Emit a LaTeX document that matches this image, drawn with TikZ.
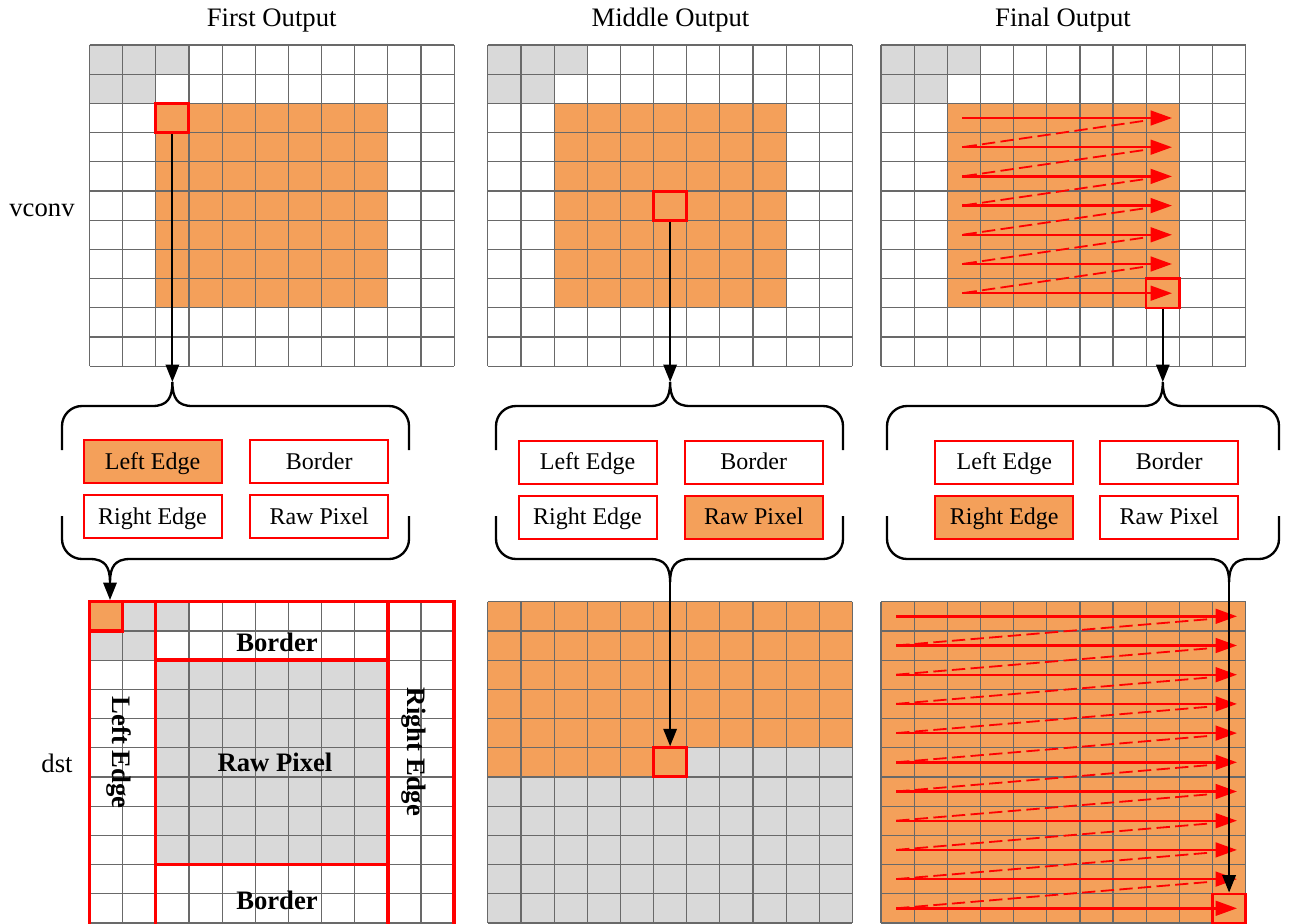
\documentclass[tikz,border=0pt]{standalone}
\usepackage{fontspec}
\setmainfont{Liberation Serif}
\usetikzlibrary{arrows.meta}
\definecolor{org}{RGB}{244,160,90}
\definecolor{lgray}{RGB}{217,217,217}
\definecolor{gline}{RGB}{105,105,105}
\def\cellW{33.15}
\def\cellH{29.2}
\newcommand{\GridLines}[2]{%
  \foreach \i in {0,...,11}{
    \draw[gridline] ({#1+\i*\cellW},#2) -- ({#1+\i*\cellW},{#2+11*\cellH});
    \draw[gridline] (#1,{#2+\i*\cellH}) -- ({#1+11*\cellW},{#2+\i*\cellH});
  }}
\newcommand{\Cells}[7]{\fill[#7] ({#1+#3*\cellW},{#2+#4*\cellH}) rectangle ({#1+(#5+1)*\cellW},{#2+(#6+1)*\cellH});}
\newcommand{\BraceTop}[3]{%
  \draw[brace] (#1,450) -- (#1,426) .. controls (#1,415) and ({#1+9},406) .. ({#1+20},406) -- ({#3-20},406) .. controls ({#3-5},406) and (#3,398) .. (#3,382) .. controls (#3,398) and ({#3+5},406) .. ({#3+20},406) -- ({#2-20},406) .. controls ({#2-9},406) and (#2,415) .. (#2,426) -- (#2,450);}
\newcommand{\BraceBot}[3]{%
  \draw[brace] (#1,516) -- (#1,539) .. controls (#1,550) and ({#1+9},559) .. ({#1+20},559) -- ({#3-20},559) .. controls ({#3-5},559) and (#3,567) .. (#3,582) .. controls (#3,567) and ({#3+5},559) .. ({#3+20},559) -- ({#2-20},559) .. controls ({#2-9},559) and (#2,550) .. (#2,539) -- (#2,516);}
\begin{document}
\begin{tikzpicture}[x=0.75pt,y=-0.75pt,
  gridline/.style={draw=gline,line width=0.9pt},
  redsq/.style={draw=red,line width=2.25pt,inner sep=0pt,minimum width=24.86pt,minimum height=21.9pt},
  optbox/.style={draw=red,line width=1.5pt,inner sep=0pt,minimum width=103.5pt,minimum height=32.25pt,text depth=1pt,font=\fontsize{18}{20}\selectfont},
  sel/.style={fill=org},
  brace/.style={line width=1.75pt},
  blk/.style={line width=1.5pt,-{Triangle[length=13pt,width=10pt]}},
  rarrow/.style={draw=red,line width=1.8pt,-{Triangle[length=16pt,width=11pt]}},
  rdash/.style={draw=red,line width=1.35pt,dash pattern=on 10pt off 4pt},
  lbl/.style={font=\fontsize{20}{24}\selectfont},
  blbl/.style={font=\fontsize{20}{24}\selectfont\bfseries},
]
\useasboundingbox (0,0) rectangle (1292,924);
\fill[white] (0,0) rectangle (1292,924);

% titles
\node[lbl,anchor=base] (h1) at (271.7,27) {First Output};
\node[lbl,anchor=base] (h2) at (670.5,27) {Middle Output};
\node[lbl,anchor=base] (h3) at (1063,27) {Final Output};
\node[lbl,anchor=base] (lv) at (42,216) {vconv};
\node[lbl,anchor=base] (ld) at (57,772) {dst};

% ---------- top grids ----------
% first
\Cells{89.5}{45}{0}{0}{2}{0}{lgray}
\Cells{89.5}{45}{0}{1}{1}{1}{lgray}
\Cells{89.5}{45}{2}{2}{8}{8}{org}
\GridLines{89.5}{45}
\node[redsq] (s1) at ({89.5+2.5*\cellW},{45+2.5*\cellH}) {};
% middle
\Cells{487.8}{45}{0}{0}{2}{0}{lgray}
\Cells{487.8}{45}{0}{1}{1}{1}{lgray}
\Cells{487.8}{45}{2}{2}{8}{8}{org}
\GridLines{487.8}{45}
\node[redsq] (s2) at ({487.8+5.5*\cellW},{45+5.5*\cellH}) {};
% final
\Cells{881}{45}{0}{0}{2}{0}{lgray}
\Cells{881}{45}{0}{1}{1}{1}{lgray}
\Cells{881}{45}{2}{2}{8}{8}{org}
\GridLines{881}{45}
\foreach \r in {2,...,8}{
  \draw[rarrow] (962,{45+(\r+0.5)*\cellH}) -- (1172,{45+(\r+0.5)*\cellH});
}
\foreach \r in {2,...,7}{
  \draw[rdash] (1143,{45+(\r+0.5)*\cellH+3}) -- (962,{45+(\r+1.5)*\cellH});
}
\node[redsq,line width=1.8pt] (s3) at ({881+8.5*\cellW},{45+8.5*\cellH}) {};

% ---------- braces and option boxes ----------
\coordinate (t1) at ({89.5+2.5*\cellW},382);
\coordinate (t2) at ({487.8+5.5*\cellW},382);
\coordinate (t3) at ({881+8.5*\cellW},382);
\coordinate (b1) at (110,582);
\coordinate (b2) at ({487.8+5.5*\cellW},582);
\coordinate (b3) at ({881+10.5*\cellW},582);

\BraceTop{62}{409}{172.4}
\BraceBot{62}{409}{110}
\BraceTop{496}{843}{670.1}
\BraceBot{496}{843}{670.1}
\BraceTop{887}{1279}{1162.8}
\BraceBot{887}{1279}{1229.1}

\node[optbox,sel] (a1) at (152.5,461.7) {Left Edge};
\node[optbox] (a2) at (319.2,461.7) {Border};
\node[optbox] (a3) at (152.5,516.5) {Right Edge};
\node[optbox] (a4) at (319.2,516.5) {Raw Pixel};

\node[optbox] (m1) at (587.5,462) {Left Edge};
\node[optbox] (m2) at (753.8,462) {Border};
\node[optbox] (m3) at (587.5,517) {Right Edge};
\node[optbox,sel] (m4) at (753.8,517) {Raw Pixel};

\node[optbox] (f1) at (1004.3,462) {Left Edge};
\node[optbox] (f2) at (1169.2,462) {Border};
\node[optbox,sel] (f3) at (1004.3,517) {Right Edge};
\node[optbox] (f4) at (1169.2,517) {Raw Pixel};

\draw[blk] (s1.south) -- (t1);
\draw[blk] (s2.south) -- (t2);
\draw[blk] (s3.south) -- (t3);

% ---------- bottom grids ----------
% first
\Cells{89.5}{601.7}{0}{0}{2}{0}{lgray}
\Cells{89.5}{601.7}{0}{1}{1}{1}{lgray}
\Cells{89.5}{601.7}{0}{0}{0}{0}{org}
\Cells{89.5}{601.7}{2}{2}{8}{8}{lgray}
\GridLines{89.5}{601.7}
\draw[red,line width=2.5pt] (89.5,924) -- (89.5,601.7) -- (454.15,601.7) -- (454.15,924);
\draw[red,line width=2.5pt] ({89.5+2*\cellW},601.7) -- ({89.5+2*\cellW},924);
\draw[red,line width=2.5pt] ({89.5+9*\cellW},601.7) -- ({89.5+9*\cellW},924);
\draw[red,line width=2.5pt] ({89.5+2*\cellW},{601.7+2*\cellH}) -- ({89.5+9*\cellW},{601.7+2*\cellH});
\draw[red,line width=2.5pt] ({89.5+2*\cellW},{601.7+9*\cellH}) -- ({89.5+9*\cellW},{601.7+9*\cellH});
\node[redsq,line width=2.5pt] (bs1) at ({89.5+0.5*\cellW},{601.7+0.5*\cellH}) {};
\node[blbl,anchor=base] (tb1) at (277,651.7) {Border};
\node[blbl,anchor=base] (tb2) at (275,771) {Raw Pixel};
\node[blbl,anchor=base] (tb3) at (277,909.3) {Border};
\node[blbl,rotate=-90] (tb4) at (119,752.5) {Left Edge};
\node[blbl,rotate=-90] (tb5) at (414,752) {Right Edge};

% middle
\Cells{487.8}{601.7}{0}{0}{10}{4}{org}
\Cells{487.8}{601.7}{0}{5}{5}{5}{org}
\Cells{487.8}{601.7}{6}{5}{10}{5}{lgray}
\Cells{487.8}{601.7}{0}{6}{10}{10}{lgray}
\GridLines{487.8}{601.7}
\node[redsq] (bs2) at ({487.8+5.5*\cellW},{601.7+5.5*\cellH}) {};

% final
\Cells{881}{601.7}{0}{0}{10}{10}{org}
\GridLines{881}{601.7}
\foreach \r in {0,...,10}{
  \draw[rarrow] (896,{601.7+(\r+0.5)*\cellH}) -- (1237,{601.7+(\r+0.5)*\cellH});
}
\foreach \r in {0,...,9}{
  \draw[rdash] (1207,{601.7+(\r+0.5)*\cellH+3}) -- (896,{601.7+(\r+1.5)*\cellH});
}
\node[redsq,line width=1.8pt] (bs3) at ({881+10.5*\cellW},{601.7+10.5*\cellH}) {};

\draw[blk] (b1) -- (b1 |- bs1.north);
\draw[blk] (b2) -- (bs2.north);
\draw[blk] (b3) -- (bs3.north);
\end{tikzpicture}
\end{document}
